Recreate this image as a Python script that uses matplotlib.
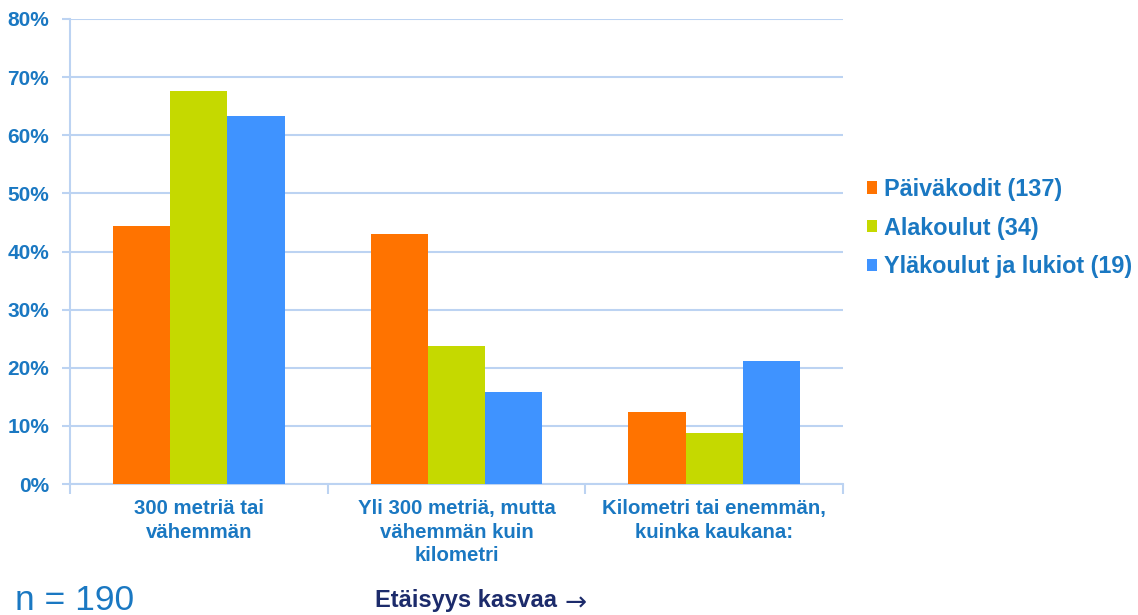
import matplotlib
matplotlib.use("Agg")
import matplotlib.pyplot as plt
from matplotlib.patches import Patch
import numpy as np

categories = ["300 metriä tai\nvähemmän",
              "Yli 300 metriä, mutta\nvähemmän kuin\nkilometri",
              "Kilometri tai enemmän,\nkuinka kaukana:"]
series_names = ["Päiväkodit (137)", "Alakoulut (34)", "Yläkoulut ja lukiot (19)"]
paivakodit = [44.4, 43.0, 12.4]
alakoulut = [67.6, 23.7, 8.8]
ylakoulut = [63.3, 15.8, 21.2]
yticks = [0, 10, 20, 30, 40, 50, 60, 70, 80]

colors = ["#ff7300", "#c5d900", "#3f93ff"]
text_blue = "#1a78c2"
grid_col = "#bcd3f2"

plt.rcParams['font.family'] = ['Liberation Sans', 'DejaVu Sans']

fig = plt.figure(figsize=(11.38, 6.15), dpi=100)
ax = fig.add_axes([70/1138, 1-484/615, (843-70)/1138, (484-19)/615])

x = np.arange(len(categories))
w = 0.222
for i, (vals, c) in enumerate(zip([paivakodit, alakoulut, ylakoulut], colors)):
    ax.bar(x + (i-1)*w, vals, width=w, color=c, zorder=3)

ax.set_xlim(-0.5, len(categories)-0.5)
ax.set_ylim(0, 80)
ax.set_yticks(yticks)
ax.set_yticklabels([f"{v}%" for v in yticks])
ax.yaxis.grid(True, color=grid_col, linewidth=1.5, zorder=0)
ax.set_axisbelow(True)

ax.set_xticks(x)
ax.set_xticklabels(categories, linespacing=1.3)
ax.set_xticks(np.arange(len(categories)+1)-0.5, minor=True)
ax.tick_params(axis='x', which='major', length=0, pad=11)
ax.tick_params(axis='x', which='minor', length=7, width=1.5, color=grid_col)
ax.tick_params(axis='y', length=6, width=1.5, color=grid_col, pad=9)
for lab in ax.get_xticklabels():
    lab.set_fontweight('bold')
    lab.set_fontsize(14.7)
    lab.set_color(text_blue)
for lab in ax.get_yticklabels():
    lab.set_fontweight('bold')
    lab.set_fontsize(15)
    lab.set_color(text_blue)

for s in ['top', 'right']:
    ax.spines[s].set_visible(False)
for s in ['left', 'bottom']:
    ax.spines[s].set_color(grid_col)
    ax.spines[s].set_linewidth(1.5)

handles = [Patch(facecolor=c, edgecolor='none') for c in colors]
leg = fig.legend(handles, series_names, loc='center left',
                 bbox_to_anchor=(862/1138, 1-228/615), frameon=False,
                 handlelength=0.45, handleheight=0.45, handletextpad=0.3,
                 labelspacing=0.68, borderaxespad=0, borderpad=0.2,
                 prop={'weight': 'bold', 'size': 16.8})
for t in leg.get_texts():
    t.set_color(text_blue)

fig.text(15/1138, 1-600/615, "n = 190", fontsize=25.5, color=text_blue,
         va='center', ha='left')
fig.text(375/1138, 1-601/615, "Etäisyys kasvaa", fontsize=17, fontweight='bold',
         color="#1c2b6b", va='center', ha='left')
fig.text(564/1138, 1-604/615, "→", fontsize=19, family=['DejaVu Sans'],
         color="#1c2b6b", va='center', ha='left')

fig.savefig("out.png", dpi=100)
